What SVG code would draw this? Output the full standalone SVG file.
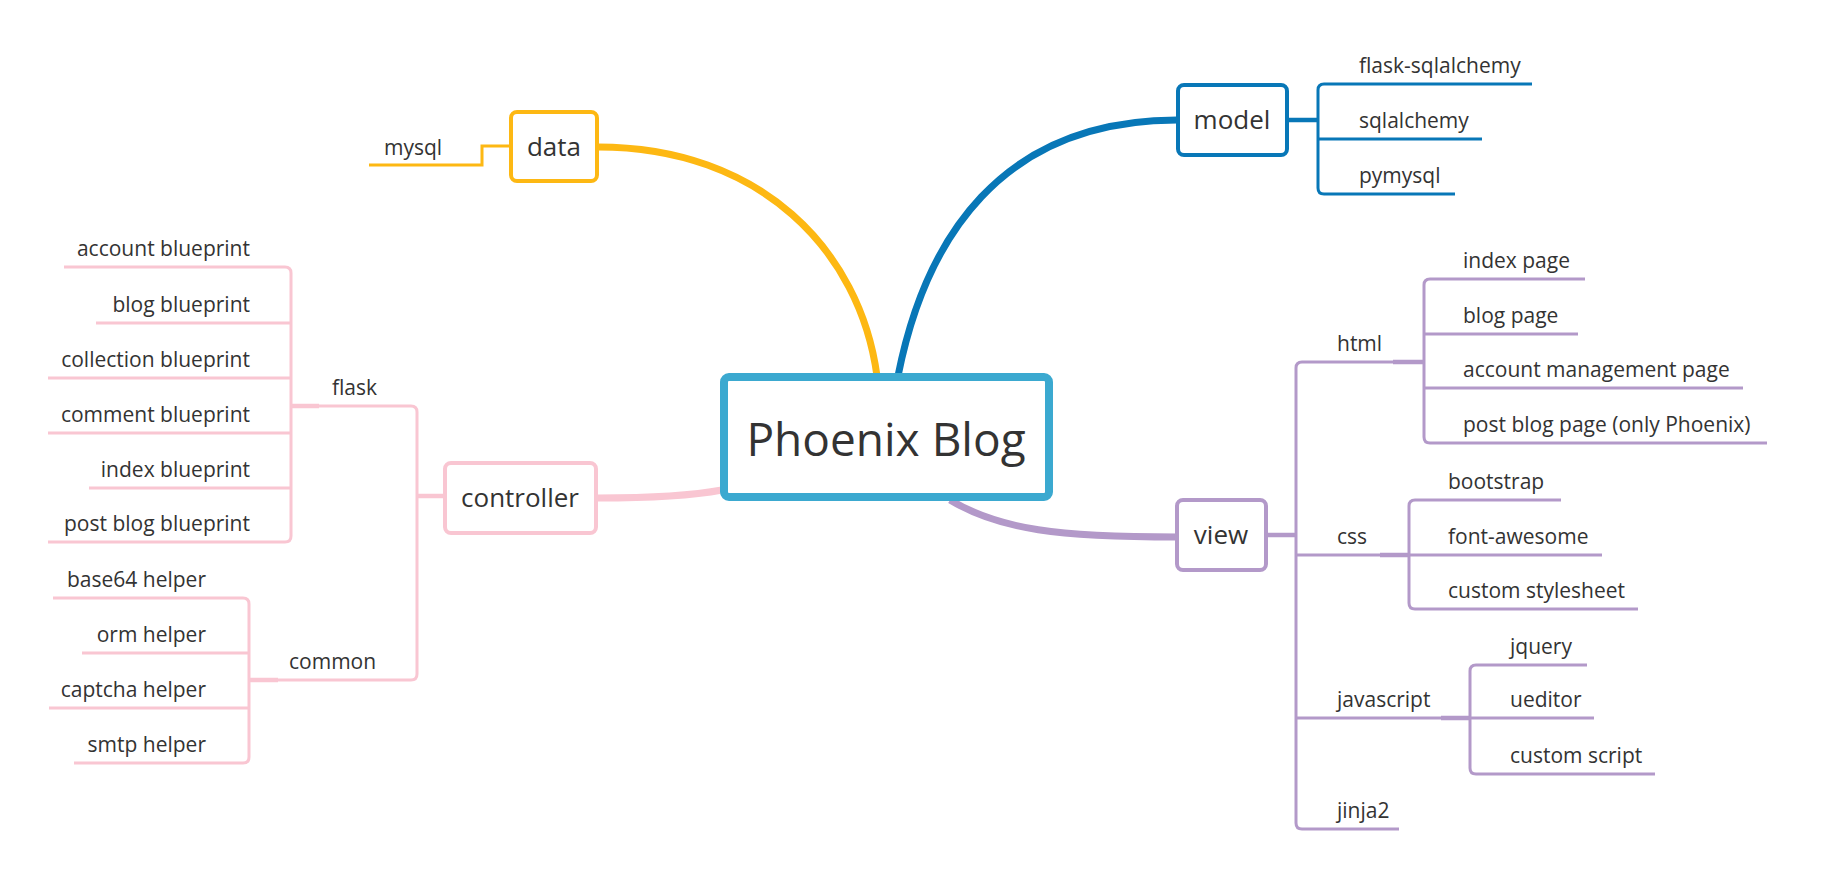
<svg xmlns="http://www.w3.org/2000/svg" width="1822" height="881" viewBox="0 0 1822 881">
<style>
text{font-family:"Open Sans","Noto Sans","Liberation Sans",sans-serif;fill:#333333;}
.lbl{font-size:21px;}
.end{text-anchor:end;}
.node{font-size:26px;text-anchor:middle;}
.box{fill:#ffffff;stroke-width:4;}
.ln{fill:none;stroke-width:3;stroke-linecap:butt;}
.stem{fill:none;stroke-width:4.5;}
.main{fill:none;stroke-width:7;}
.y{stroke:#FDB813;} .b{stroke:#0877B7;} .p{stroke:#F9C6D2;} .v{stroke:#B399C9;} .c{stroke:#3BA9D0;}
</style>
<rect width="1822" height="881" fill="#ffffff"/>
<g id="connectors">
  <path class="main y" d="M598 147 C760 147 860 250 877 376"/>
  <path class="main b" d="M898 376 C925 240 1000 120 1177 120"/>
  <path class="main p" d="M598 498 C650 498 690 496 722 490"/>
  <path class="main v" d="M950 500 C1000 530 1060 537 1177 537"/>
  <!-- data -->
  <path class="ln y" d="M509 146 H482 V165 H369"/>
  <!-- model -->
  <path class="stem b" d="M1289 120 H1318"/>
  <path class="ln b" d="M1532 84 H1324 Q1318 84 1318 90 V188 Q1318 194 1324 194 H1455"/>
  <path class="ln b" d="M1318 139 H1482"/>
  <!-- controller -->
  <path class="stem p" d="M417 496 H443"/>
  <path class="ln p" d="M291 406 H411 Q417 406 417 412 V674 Q417 680 411 680 H249"/>
  <path class="stem p" d="M291 406 H319"/>
  <path class="stem p" d="M249 680 H278"/>
  <path class="ln p" d="M64 267 H285 Q291 267 291 273 V536 Q291 542 285 542 H48"/>
  <path class="ln p" d="M96 323 H291 M48 378 H291 M48 433 H291 M89 488 H291"/>
  <path class="ln p" d="M53 598 H243 Q249 598 249 604 V757 Q249 763 243 763 H74"/>
  <path class="ln p" d="M82 653 H249 M49 708 H249"/>
  <!-- view -->
  <path class="stem v" d="M1268 535 H1296"/>
  <path class="ln v" d="M1423 362 H1302 Q1296 362 1296 368 V823 Q1296 829 1302 829 H1399"/>
  <path class="ln v" d="M1296 555 H1409 M1296 718 H1470"/>
  <path class="stem v" d="M1393 362 H1424 M1380 555 H1409 M1441 718 H1470"/>
  <path class="ln v" d="M1585 279 H1430 Q1424 279 1424 285 V437 Q1424 443 1430 443 H1767"/>
  <path class="ln v" d="M1424 334 H1578 M1424 388 H1743"/>
  <path class="ln v" d="M1561 500 H1415 Q1409 500 1409 506 V603 Q1409 609 1415 609 H1638"/>
  <path class="ln v" d="M1409 555 H1602"/>
  <path class="ln v" d="M1587 665 H1476 Q1470 665 1470 671 V768 Q1470 774 1476 774 H1655"/>
  <path class="ln v" d="M1470 718 H1594"/>
</g>
<g id="central">
  <rect x="724" y="377" width="325" height="120" rx="5" fill="#ffffff" stroke="#3BA9D0" stroke-width="8"/>
  <text x="886" y="456" font-size="46" text-anchor="middle">Phoenix Blog</text>
</g>
<g id="data">
  <rect class="box y" x="511" y="112" width="86" height="69" rx="6"/>
  <text class="node" x="554" y="156">data</text>
</g>
<g id="mysql"><text class="lbl" x="384" y="155">mysql</text></g>
<g id="model">
  <rect class="box b" x="1178" y="85" width="109" height="70" rx="6"/>
  <text class="node" x="1232" y="129">model</text>
</g>
<g id="flask-sqlalchemy"><text class="lbl" x="1359" y="73">flask-sqlalchemy</text></g>
<g id="sqlalchemy"><text class="lbl" x="1359" y="128">sqlalchemy</text></g>
<g id="pymysql"><text class="lbl" x="1359" y="183">pymysql</text></g>
<g id="controller">
  <rect class="box p" x="445" y="463" width="151" height="70" rx="6"/>
  <text class="node" x="520" y="507">controller</text>
</g>
<g id="flask"><text class="lbl" x="332" y="395">flask</text></g>
<g id="account-blueprint"><text class="lbl end" x="250" y="256">account blueprint</text></g>
<g id="blog-blueprint"><text class="lbl end" x="250" y="312">blog blueprint</text></g>
<g id="collection-blueprint"><text class="lbl end" x="250" y="367">collection blueprint</text></g>
<g id="comment-blueprint"><text class="lbl end" x="250" y="422">comment blueprint</text></g>
<g id="index-blueprint"><text class="lbl end" x="250" y="477">index blueprint</text></g>
<g id="post-blog-blueprint"><text class="lbl end" x="250" y="531">post blog blueprint</text></g>
<g id="common"><text class="lbl" x="289" y="669">common</text></g>
<g id="base64-helper"><text class="lbl end" x="206" y="587">base64 helper</text></g>
<g id="orm-helper"><text class="lbl end" x="206" y="642">orm helper</text></g>
<g id="captcha-helper"><text class="lbl end" x="206" y="697">captcha helper</text></g>
<g id="smtp-helper"><text class="lbl end" x="206" y="752">smtp helper</text></g>
<g id="view">
  <rect class="box v" x="1177" y="500" width="89" height="70" rx="6"/>
  <text class="node" x="1221" y="544">view</text>
</g>
<g id="html"><text class="lbl" x="1337" y="351">html</text></g>
<g id="index-page"><text class="lbl" x="1463" y="268">index page</text></g>
<g id="blog-page"><text class="lbl" x="1463" y="323">blog page</text></g>
<g id="account-management-page"><text class="lbl" x="1463" y="377">account management page</text></g>
<g id="post-blog-page"><text class="lbl" x="1463" y="432">post blog page (only Phoenix)</text></g>
<g id="css"><text class="lbl" x="1337" y="544">css</text></g>
<g id="bootstrap"><text class="lbl" x="1448" y="489">bootstrap</text></g>
<g id="font-awesome"><text class="lbl" x="1448" y="544">font-awesome</text></g>
<g id="custom-stylesheet"><text class="lbl" x="1448" y="598">custom stylesheet</text></g>
<g id="javascript"><text class="lbl" x="1337" y="707">javascript</text></g>
<g id="jquery"><text class="lbl" x="1510" y="654">jquery</text></g>
<g id="ueditor"><text class="lbl" x="1510" y="707">ueditor</text></g>
<g id="custom-script"><text class="lbl" x="1510" y="763">custom script</text></g>
<g id="jinja2"><text class="lbl" x="1337" y="818">jinja2</text></g>
</svg>
